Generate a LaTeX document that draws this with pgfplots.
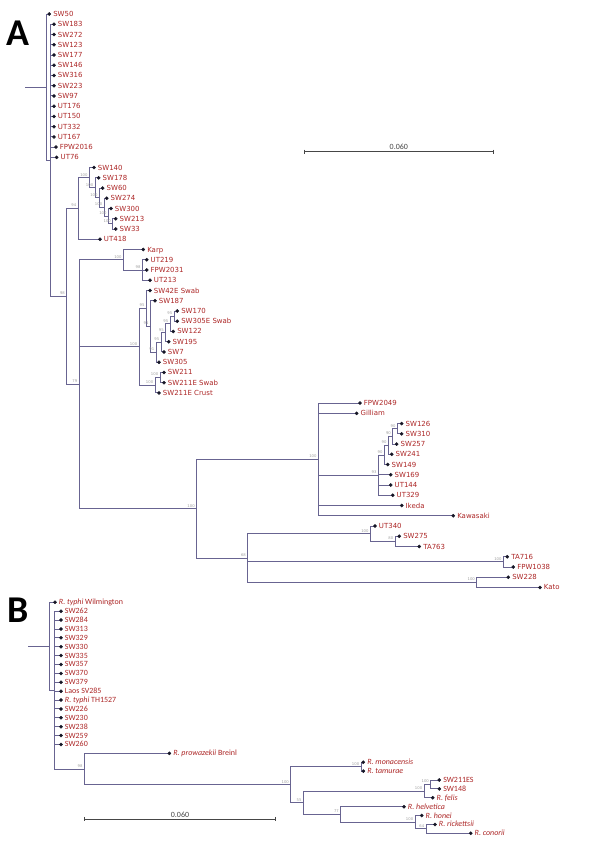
\documentclass[border=0pt]{standalone}
\usepackage{pgfplots}
\pgfplotsset{compat=1.18}
\usepackage{fontspec}
\setmainfont{DejaVu Sans}
\newfontfamily\carlito{Carlito}
\definecolor{branch}{RGB}{104,100,145}
\definecolor{leafred}{RGB}{172,38,38}
\definecolor{dotc}{RGB}{22,22,38}
\definecolor{bootg}{RGB}{160,160,160}
\definecolor{scaleg}{RGB}{70,70,70}
\pgfplotsset{
 leafA/.style={only marks, mark=*, mark size=1.6pt, mark options={fill=dotc, draw=dotc},
   point meta=explicit symbolic, nodes near coords,
   every node near coord/.append style={anchor=base west, inner sep=0pt, xshift=3.8pt, yshift=-2.55pt, text=leafred, font=\fontsize{7}{8}\selectfont}},
 leafB/.style={only marks, mark=*, mark size=1.6pt, mark options={fill=dotc, draw=dotc},
   point meta=explicit symbolic, nodes near coords,
   every node near coord/.append style={anchor=base west, inner sep=0pt, xshift=3.8pt, yshift=-2.5pt, text=leafred, font=\carlito\fontsize{8}{9}\selectfont}},
 boot/.style={only marks, mark=*, mark size=0pt,
   point meta=explicit symbolic, nodes near coords,
   every node near coord/.append style={anchor=south east, inner sep=0pt, xshift=-1.6pt, yshift=1.4pt, text=bootg, font=\fontsize{3.8}{4}\selectfont}},
}
\begin{document}
\begin{tikzpicture}
\begin{axis}[
 width=600bp, height=848bp, scale only axis,
 xmin=0, xmax=600, ymin=0, ymax=848, y dir=reverse,
 hide axis, clip=false, unbounded coords=jump,
]
\addplot[draw=none, forget plot] coordinates {(0,0) (600,848)};
% ---------------- Panel A branches ----------------
\addplot[branch, line width=0.9pt] table[row sep=\\] {
x y \\
25 87.15 \\ 46 87.15 \\ nan nan \\
49.3 14 \\ 46 14 \\ 46 160.3 \\ 50.7 160.3 \\ nan nan \\
54 24.24 \\ 50.7 24.24 \\ 50.7 296.36 \\ 66.7 296.36 \\ nan nan \\
50.7 34.48 \\ 54 34.48 \\ nan nan \\
50.7 44.72 \\ 54 44.72 \\ nan nan \\
50.7 54.96 \\ 54 54.96 \\ nan nan \\
50.7 65.2 \\ 54 65.2 \\ nan nan \\
50.7 75.44 \\ 54 75.44 \\ nan nan \\
50.7 85.68 \\ 54 85.68 \\ nan nan \\
50.7 95.92 \\ 54 95.92 \\ nan nan \\
50.7 106.16 \\ 54 106.16 \\ nan nan \\
50.7 116.4 \\ 54 116.4 \\ nan nan \\
50.7 126.64 \\ 54 126.64 \\ nan nan \\
50.7 136.88 \\ 54 136.88 \\ nan nan \\
50.7 147.12 \\ 56 147.12 \\ nan nan \\
50.7 157.36 \\ 56.7 157.36 \\ nan nan \\
78 208.48 \\ 66.7 208.48 \\ 66.7 384.24 \\ 79 384.24 \\ nan nan \\
89.3 177.68 \\ 78 177.68 \\ 78 239.28 \\ 100 239.28 \\ nan nan \\
94 167.6 \\ 89.3 167.6 \\ 89.3 187.76 \\ 95 187.76 \\ nan nan \\
98.7 177.84 \\ 95 177.84 \\ 95 197.68 \\ 99.3 197.68 \\ nan nan \\
102.7 188.08 \\ 99.3 188.08 \\ 99.3 207.28 \\ 104 207.28 \\ nan nan \\
106.7 198.32 \\ 104 198.32 \\ 104 216.24 \\ 108.3 216.24 \\ nan nan \\
111 208.56 \\ 108.3 208.56 \\ 108.3 223.92 \\ 112.7 223.92 \\ nan nan \\
115.7 218.8 \\ 112.7 218.8 \\ 112.7 229.04 \\ 115.7 229.04 \\ nan nan \\
123.3 259.76 \\ 79 259.76 \\ 79 508.72 \\ 196.5 508.72 \\ nan nan \\
79 346.84 \\ 139 346.84 \\ nan nan \\
143.3 249.52 \\ 123.3 249.52 \\ 123.3 270 \\ 142.3 270 \\ nan nan \\
146.7 259.76 \\ 142.3 259.76 \\ 142.3 280.24 \\ 150 280.24 \\ nan nan \\
142.3 270 \\ 146.7 270 \\ nan nan \\
146.3 308.48 \\ 139 308.48 \\ 139 385.2 \\ 155 385.2 \\ nan nan \\
150 290.48 \\ 146.3 290.48 \\ 146.3 326.48 \\ 150.3 326.48 \\ nan nan \\
155 300.72 \\ 150.3 300.72 \\ 150.3 352.24 \\ 156 352.24 \\ nan nan \\
161 342.32 \\ 156 342.32 \\ 156 362.16 \\ 159 362.16 \\ nan nan \\
165.5 332.72 \\ 161 332.72 \\ 161 351.92 \\ 164 351.92 \\ nan nan \\
170 323.76 \\ 165.5 323.76 \\ 165.5 341.68 \\ 168.7 341.68 \\ nan nan \\
174 316.08 \\ 170 316.08 \\ 170 331.44 \\ 173.3 331.44 \\ nan nan \\
177.3 310.96 \\ 174 310.96 \\ 174 321.2 \\ 177.3 321.2 \\ nan nan \\
160 377.52 \\ 155 377.52 \\ 155 392.88 \\ 159 392.88 \\ nan nan \\
164 372.4 \\ 160 372.4 \\ 160 382.64 \\ 164 382.64 \\ nan nan \\
318.3 459.44 \\ 196.5 459.44 \\ 196.5 558 \\ 247.7 558 \\ nan nan \\
360 403.12 \\ 318.3 403.12 \\ 318.3 515.76 \\ 453.3 515.76 \\ nan nan \\
318.3 413.36 \\ 356.7 413.36 \\ nan nan \\
318.3 475.12 \\ 378.3 475.12 \\ nan nan \\
318.3 505.52 \\ 401.7 505.52 \\ nan nan \\
384.3 454.96 \\ 378.3 454.96 \\ 378.3 495.28 \\ 392.7 495.28 \\ nan nan \\
378.3 474.8 \\ 390.7 474.8 \\ nan nan \\
378.3 485.04 \\ 390.7 485.04 \\ nan nan \\
388.3 445.36 \\ 384.3 445.36 \\ 384.3 464.56 \\ 387.7 464.56 \\ nan nan \\
392.7 436.4 \\ 388.3 436.4 \\ 388.3 454.32 \\ 391.7 454.32 \\ nan nan \\
397.3 428.72 \\ 392.7 428.72 \\ 392.7 444.08 \\ 396.7 444.08 \\ nan nan \\
401.7 423.6 \\ 397.3 423.6 \\ 397.3 433.84 \\ 401.7 433.84 \\ nan nan \\
370.3 533.68 \\ 247.7 533.68 \\ 247.7 582.32 \\ 476.7 582.32 \\ nan nan \\
247.7 561.84 \\ 503.3 561.84 \\ nan nan \\
375 526 \\ 370.3 526 \\ 370.3 541.36 \\ 395 541.36 \\ nan nan \\
399.3 536.24 \\ 395 536.24 \\ 395 546.48 \\ 419.3 546.48 \\ nan nan \\
507.3 556.72 \\ 503.3 556.72 \\ 503.3 566.96 \\ 513.3 566.96 \\ nan nan \\
508.3 577.2 \\ 476.7 577.2 \\ 476.7 587.44 \\ 540 587.44 \\
};
% ---------------- Panel B branches ----------------
\addplot[branch, line width=0.9pt] table[row sep=\\] {
x y \\
28.3 646.2 \\ 49.3 646.2 \\ nan nan \\
55 602.3 \\ 49.3 602.3 \\ 49.3 690.1 \\ 54 690.1 \\ nan nan \\
61 611.19 \\ 54 611.19 \\ 54 769.04 \\ 84.3 769.04 \\ nan nan \\
54 620.07 \\ 61 620.07 \\ nan nan \\
54 628.96 \\ 61 628.96 \\ nan nan \\
54 637.84 \\ 61 637.84 \\ nan nan \\
54 646.73 \\ 61 646.73 \\ nan nan \\
54 655.61 \\ 61 655.61 \\ nan nan \\
54 664.50 \\ 61 664.50 \\ nan nan \\
54 673.38 \\ 61 673.38 \\ nan nan \\
54 682.27 \\ 61 682.27 \\ nan nan \\
54 691.15 \\ 61 691.15 \\ nan nan \\
54 700.04 \\ 61 700.04 \\ nan nan \\
54 708.92 \\ 61 708.92 \\ nan nan \\
54 717.81 \\ 61 717.81 \\ nan nan \\
54 726.69 \\ 61 726.69 \\ nan nan \\
54 735.58 \\ 61 735.58 \\ nan nan \\
54 744.46 \\ 61 744.46 \\ nan nan \\
169.3 753.35 \\ 84.3 753.35 \\ 84.3 784.72 \\ 290.7 784.72 \\ nan nan \\
361 766.68 \\ 290.7 766.68 \\ 290.7 802.77 \\ 303.3 802.77 \\ nan nan \\
363.3 762.23 \\ 361 762.23 \\ 361 771.12 \\ 363.3 771.12 \\ nan nan \\
424 791.11 \\ 303.3 791.11 \\ 303.3 814.43 \\ 340.7 814.43 \\ nan nan \\
430.7 784.45 \\ 424 784.45 \\ 424 797.77 \\ 432.7 797.77 \\ nan nan \\
439.3 780 \\ 430.7 780 \\ 430.7 788.89 \\ 439.3 788.89 \\ nan nan \\
404 806.66 \\ 340.7 806.66 \\ 340.7 822.2 \\ 415 822.2 \\ nan nan \\
421.7 815.54 \\ 415 815.54 \\ 415 828.87 \\ 426 828.87 \\ nan nan \\
435 824.43 \\ 426 824.43 \\ 426 833.31 \\ 470.7 833.31 \\
};
% ---------------- Scale bars ----------------
\addplot[scaleg, line width=0.6pt] table[row sep=\\] {
x y \\
304.3 151.7 \\ 493.3 151.7 \\ nan nan \\
304.3 149.6 \\ 304.3 153.8 \\ nan nan \\
493.3 149.6 \\ 493.3 153.8 \\ nan nan \\
84.3 819 \\ 275.7 819 \\ nan nan \\
84.3 816.9 \\ 84.3 821.1 \\ nan nan \\
275.7 816.9 \\ 275.7 821.1 \\
};
% ---------------- Panel A leaves ----------------
\addplot[leafA] coordinates {
(49.3,14)[SW50]
(54,24.24)[SW183]
(54,34.48)[SW272]
(54,44.72)[SW123]
(54,54.96)[SW177]
(54,65.2)[SW146]
(54,75.44)[SW316]
(54,85.68)[SW223]
(54,95.92)[SW97]
(54,106.16)[UT176]
(54,116.4)[UT150]
(54,126.64)[UT332]
(54,136.88)[UT167]
(56,147.12)[FPW2016]
(56.7,157.36)[UT76]
(94,167.6)[SW140]
(98.7,177.84)[SW178]
(102.7,188.08)[SW60]
(106.7,198.32)[SW274]
(111,208.56)[SW300]
(115.7,218.8)[SW213]
(115.7,229.04)[SW33]
(100,239.28)[UT418]
(143.3,249.52)[Karp]
(146.7,259.76)[UT219]
(146.7,270)[FPW2031]
(150,280.24)[UT213]
(150,290.48)[SW42E Swab]
(155,300.72)[SW187]
(177.3,310.96)[SW170]
(177.3,321.2)[SW305E Swab]
(173.3,331.44)[SW122]
(168.7,341.68)[SW195]
(164,351.92)[SW7]
(159,362.16)[SW305]
(164,372.4)[SW211]
(164,382.64)[SW211E Swab]
(159,392.88)[SW211E Crust]
(360,403.12)[FPW2049]
(356.7,413.36)[Gilliam]
(401.7,423.6)[SW126]
(401.7,433.84)[SW310]
(396.7,444.08)[SW257]
(391.7,454.32)[SW241]
(387.7,464.56)[SW149]
(390.7,474.8)[SW169]
(390.7,485.04)[UT144]
(392.7,495.28)[UT329]
(401.7,505.52)[Ikeda]
(453.3,515.76)[Kawasaki]
(375,526)[UT340]
(399.3,536.24)[SW275]
(419.3,546.48)[TA763]
(507.3,556.72)[TA716]
(513.3,566.96)[FPW1038]
(508.3,577.2)[SW228]
(540,587.44)[Kato]
};
% ---------------- Panel B leaves ----------------
\addplot[leafB] coordinates {
(55,602.3)[\textit{R. typhi} Wilmington]
(61,611.19)[SW262]
(61,620.07)[SW284]
(61,628.96)[SW313]
(61,637.84)[SW329]
(61,646.73)[SW330]
(61,655.61)[SW335]
(61,664.50)[SW357]
(61,673.38)[SW370]
(61,682.27)[SW379]
(61,691.15)[Laos SV285]
(61,700.04)[\textit{R. typhi} TH1527]
(61,708.92)[SW226]
(61,717.81)[SW230]
(61,726.69)[SW238]
(61,735.58)[SW259]
(61,744.46)[SW260]
(169.3,753.35)[\textit{R. prowazekii} Breinl]
(363.3,762.23)[\textit{R. monacensis}]
(363.3,771.12)[\textit{R. tamurae}]
(439.3,780)[SW211ES]
(439.3,788.89)[SW148]
(432.7,797.77)[\textit{R. felis}]
(404,806.66)[\textit{R. helvetica}]
(421.7,815.54)[\textit{R. honei}]
(435,824.43)[\textit{R. rickettsii}]
(470.7,833.31)[\textit{R. conorii}]
};
% ---------------- Bootstrap values ----------------
\addplot[boot] coordinates {
(66.7,296.36)[98]
(78,208.48)[94]
(89.3,177.68)[100]
(95,187.76)[100]
(99.3,197.68)[100]
(104,207.28)[100]
(108.3,216.24)[100]
(112.7,223.92)[100]
(79,384.24)[79]
(123.3,259.76)[100]
(142.3,270)[98]
(139,346.84)[100]
(146.3,308.48)[95]
(150.3,326.48)[91]
(156,352.24)[91]
(161,342.32)[95]
(165.5,332.72)[95]
(170,323.76)[95]
(174,316.08)[95]
(160,377.52)[100]
(155,385.2)[100]
(196.5,508.72)[100]
(318.3,459.44)[100]
(378.3,475.12)[93]
(384.3,454.96)[90]
(388.3,445.36)[90]
(392.7,436.4)[90]
(397.3,428.72)[90]
(247.7,558)[68]
(370.3,533.68)[100]
(395,541.36)[80]
(503.3,561.84)[100]
(476.7,582.32)[100]
(84.3,769.04)[98]
(290.7,784.72)[100]
(361,766.68)[100]
(303.3,802.77)[55]
(424,791.11)[100]
(430.7,784.45)[100]
(340.7,814.43)[77]
(415,822.2)[100]
(426,828.87)[64]
};
% ---------------- Text ----------------
\node[font=\carlito\bfseries\fontsize{38}{40}\selectfont, inner sep=0pt] at (axis cs:18.3,33) {A};
\node[font=\carlito\bfseries\fontsize{38}{40}\selectfont, inner sep=0pt] at (axis cs:18,610.5) {B};
\node[font=\carlito\fontsize{8}{9}\selectfont, text=scaleg, anchor=south, inner sep=0pt] at (axis cs:398.8,150.2) {0.060};
\node[font=\carlito\fontsize{8}{9}\selectfont, text=scaleg, anchor=south, inner sep=0pt] at (axis cs:180,817.5) {0.060};
\end{axis}
\end{tikzpicture}
\end{document}
